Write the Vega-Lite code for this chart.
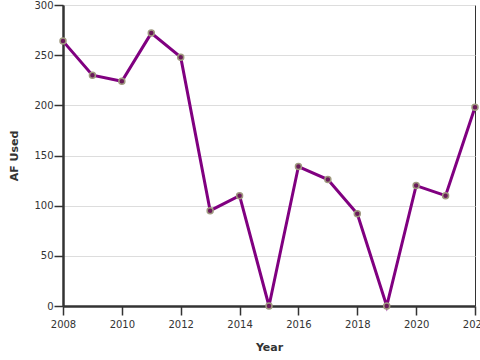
{
  "$schema": "https://vega.github.io/schema/vega-lite/v6.json",
  "width": 412,
  "height": 301,
  "padding": {"left": 8, "top": 0, "right": 0, "bottom": 0},
  "data": {"values": [
    {"Year": 2008, "AF": 264},
    {"Year": 2009, "AF": 230},
    {"Year": 2010, "AF": 224},
    {"Year": 2011, "AF": 272},
    {"Year": 2012, "AF": 248},
    {"Year": 2013, "AF": 95},
    {"Year": 2014, "AF": 110},
    {"Year": 2015, "AF": 0},
    {"Year": 2016, "AF": 139},
    {"Year": 2017, "AF": 126},
    {"Year": 2018, "AF": 92},
    {"Year": 2019, "AF": 0},
    {"Year": 2020, "AF": 120},
    {"Year": 2021, "AF": 110},
    {"Year": 2022, "AF": 198}
  ]},
  "config": {
    "font": "DejaVu Sans",
    "view": {"stroke": "#333", "strokeWidth": 1},
    "axis": {
      "domainColor": "#333",
      "domainWidth": 2.5,
      "tickColor": "#333",
      "tickWidth": 1.5,
      "tickSize": 9,
      "labelFont": "DejaVu Sans",
      "labelFontSize": 10,
      "labelColor": "#333",
      "titleFont": "DejaVu Sans",
      "titleFontSize": 11,
      "titleFontWeight": "bold",
      "titleColor": "#333",
      "gridColor": "#dddddd"
    }
  },
  "encoding": {
    "x": {"field": "Year", "type": "quantitative", "scale": {"domain": [2008, 2022], "zero": false, "nice": false},
          "axis": {"format": "d", "grid": false, "tickCount": 7, "title": "Year", "titlePadding": 12, "labelPadding": 4, "labelFlush": false}},
    "y": {"field": "AF", "type": "quantitative", "scale": {"domain": [0, 300]},
          "axis": {"title": "AF Used", "tickCount": 6, "titlePadding": 14, "labelPadding": 1}}
  },
  "layer": [
    {"mark": {"type": "line", "color": "#800080", "strokeWidth": 3}},
    {"mark": {"type": "point", "filled": false, "fill": "#6a1a5a", "fillOpacity": 1, "stroke": "#a09a80", "strokeWidth": 1.5, "size": 36, "opacity": 1}}
  ]
}
